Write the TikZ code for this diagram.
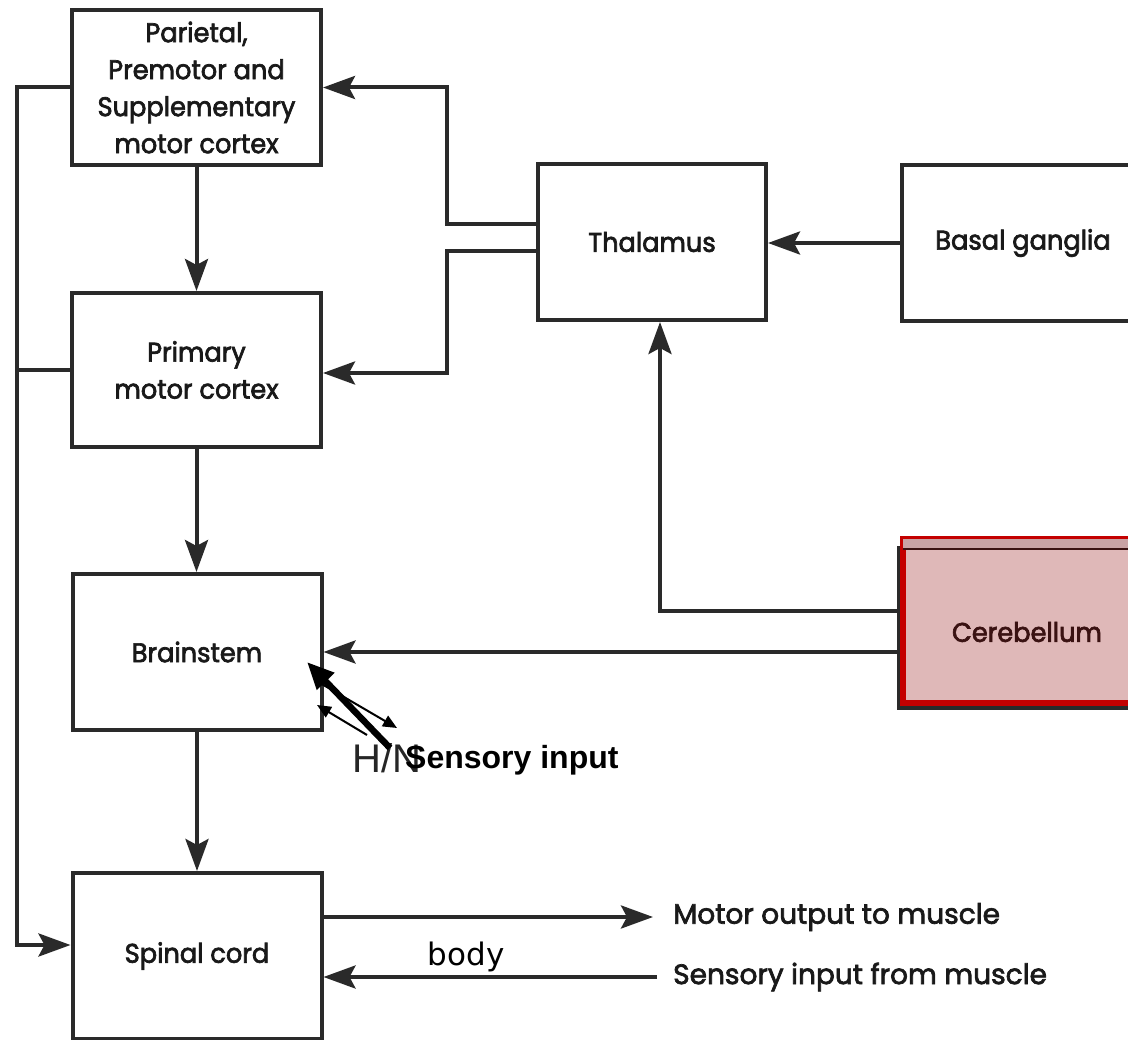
\documentclass[tikz,border=0pt]{standalone}
\usepackage{fontspec}
\setmainfont{Liberation Sans}
\newfontfamily\boxfont[FakeStretch=0.95, FakeBold=2.5]{Poppins}
\newfontfamily\sidefont[FakeBold=2.5]{Poppins}
\newfontfamily\wordfont{DejaVu Sans}
\usetikzlibrary{arrows.meta}
\definecolor{ink}{HTML}{2A2A2A}
\definecolor{cerebred}{HTML}{C40000}
\definecolor{cerebfill}{HTML}{DFB8B8}
\definecolor{cerebstrip}{HTML}{C9A3A5}
\definecolor{cerebtext}{HTML}{3A1212}
\begin{document}
\begin{tikzpicture}[x=1pt,y=-1pt,
    box/.style={draw=ink, line width=4pt, minimum width=249pt, align=center,
      font=\boxfont\fontsize{27}{37}\selectfont, text=black!90},
    conn/.style={draw=ink, line width=4pt, -{Stealth[length=32pt,width=23pt,inset=6pt]}},
    wire/.style={draw=ink, line width=4pt},
    sidetext/.style={font=\sidefont\fontsize{28}{30}\selectfont, anchor=west, inner sep=0pt, text=black!90},
    thinarrow/.style={line width=2pt, -{Triangle[length=14pt,width=12pt]}}]

        \useasboundingbox[fill=white] (0,0) rectangle (1128,1040);

        \node[box, minimum height=155pt] (par) at (196.5,87.5) {Parietal,\\Premotor and\\Supplementary\\motor cortex};
        \node[box, minimum height=154pt] (prim) at (196.5,370) {Primary\\motor cortex};
        \node[box, minimum height=156pt] (brain) at (197,652) {Brainstem};
        \node[box, minimum height=166pt] (spinal) at (197,956) {Spinal cord};
        \node[box, minimum width=228pt, minimum height=156pt] (thal) at (652,242) {Thalamus};
        \node[box, minimum width=242pt, minimum height=156pt] (basal) at (1023,243) {Basal ganglia};

        \fill[ink] (897,546) rectangle (1140,710);
        \node[draw=cerebred, fill=cerebfill, line width=6pt, minimum width=236pt, minimum height=164pt,
          label={[xshift=6pt, yshift=-11pt, font=\boxfont\fontsize{27}{30}\selectfont, text=cerebtext]center:Cerebellum}] (cereb) at (1021,621) {};
        \fill[cerebstrip] ([xshift=3pt, yshift=-3pt]cereb.north west) rectangle ([yshift=-13pt]cereb.north east);
        \draw[cerebtext, line width=2pt] ([xshift=3pt, yshift=-13pt]cereb.north west) -- ([yshift=-13pt]cereb.north east);

        \draw[conn] (par.south) -- (par.south |- prim.north);
        \draw[conn] (prim.south) -- (prim.south |- brain.north);
        \draw[conn] (brain.south) -- (brain.south |- spinal.north);

        \draw[conn] ([yshift=18pt]thal.west) -- ++(-89,0) |- (par.east);
        \draw[conn] ([yshift=-9pt]thal.west) -- ++(-89,0) |- ([yshift=-3pt]prim.east);
        \draw[conn] (basal.west) -- (basal.west -| thal.east);
        \draw[conn] ([yshift=10pt]cereb.west) -| ([xshift=8pt]thal.south);
        \draw[conn] (cereb.west |- brain.east) -- (brain.east);

        \coordinate (bus) at (17,0);
        \draw[conn] (par.west) -- (par.west -| bus) |- ([yshift=11pt]spinal.west);
        \draw[wire] (prim.west) -- (prim.west -| bus);

        \node[sidetext] (motor) at (673,917) {Motor output to muscle};
        \node[sidetext] (sens) at (673,977) {Sensory input from muscle};
        \draw[conn] (spinal.east |- motor) -- ([xshift=-20pt]motor.west);
        \draw[conn] ([xshift=-16pt]sens.west) -- (spinal.east |- sens);
        \node[font=\wordfont\fontsize{31}{31}\selectfont, inner sep=0pt] (body) at (466,957) {body};

        \node[anchor=base west, inner sep=0pt, font=\fontsize{40}{40}\selectfont, text=black!85] (hn) at (352,772) {H/N};
        \node[anchor=base west, inner sep=0pt, font=\bfseries\fontsize{32}{32}\selectfont] (sensin) at (405,768) {Sensory input};

        \coordinate (thickstart) at (390,748);
        \coordinate (thicktip) at (307,662);
        \coordinate (outstart) at (320,683);
        \coordinate (outtip) at (397,728);
        \coordinate (instart) at (367,735);
        \coordinate (intip) at (317,705);
        \draw[line width=6.5pt, -{Triangle[length=27pt,width=23pt]}] (thickstart) -- (thicktip);
        \draw[thinarrow] (outstart) -- (outtip);
        \draw[thinarrow] (instart) -- (intip);

      \end{tikzpicture}
\end{document}
